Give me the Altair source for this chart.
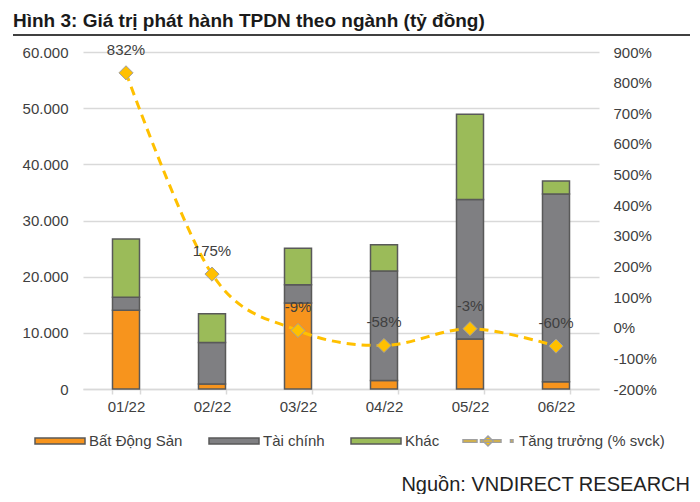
import altair as alt
import pandas as pd

# ---- data ----
months = ["01/22", "02/22", "03/22", "04/22", "05/22", "06/22"]
sectors = ["Bất Động Sản", "Tài chính", "Khác"]
bds = [14000, 900, 15300, 1500, 8900, 1300]
tc = [2350, 7400, 3250, 19500, 24850, 33400]
khac = [10350, 5100, 6500, 4700, 15150, 2350]
growth = [832, 175, -9, -58, -3, -60]
growth_name = "Tăng trưởng (% svck)"
title_text = ["Hình 3: Giá trị phát hành TPDN theo ngành (tỷ đồng)"]
source_text = ["Nguồn: VNDIRECT RESEARCH"]
left_ticks = [0, 10000, 20000, 30000, 40000, 50000, 60000]
right_ticks = [-200, -100, 0, 100, 200, 300, 400, 500, 600, 700, 800, 900]

# ---- styles ----
sector_colors = ["#F7941D", "#7F7F82", "#9BBB59"]
FONT = "Liberation Sans"
TXT = "#404040"
GRID = "#D9D9D9"
LINE_C = "#FFC000"

rows = []
for j, (s, vals) in enumerate(zip(sectors, [bds, tc, khac])):
    for i, m in enumerate(months):
        rows.append({"month": m, "sector": s, "idx": j, "value": vals[i]})
bar_df = pd.DataFrame(rows)
line_df = pd.DataFrame({"month": months, "growth": growth, "series": [growth_name] * len(months)})

x_enc = alt.X(
    "month:N", sort=months,
    scale=alt.Scale(paddingInner=0.686, paddingOuter=0.343),
    axis=alt.Axis(title=None, labelAngle=0, tickBand="extent", domainColor=GRID,
                  domainWidth=1.5, tickColor=GRID, tickWidth=1.5, tickSize=5,
                  labelFontSize=15, labelColor=TXT, labelPadding=5, grid=False),
)

bars = alt.Chart(bar_df).mark_bar(stroke="#595959", strokeWidth=1.5).encode(
    x=x_enc,
    y=alt.Y("value:Q", stack="zero",
            scale=alt.Scale(domain=[0, 60000], nice=False),
            axis=alt.Axis(title=None, orient="left", values=left_ticks,
                          labelExpr="replace(format(datum.value, ','), ',', '.')",
                          grid=True, gridColor=GRID, gridWidth=1.5, domain=False,
                          ticks=False, labelPadding=15, labelFontSize=15, labelColor=TXT)),
    color=alt.Color("sector:N", scale=alt.Scale(domain=sectors, range=sector_colors),
                    legend=alt.Legend(title=None, orient="none", legendX=-49, legendY=363,
                                      direction="horizontal",
                                      symbolType="M-1,-0.12H1V0.12H-1Z", symbolSize=2500,
                                      symbolStrokeColor="#595959", symbolStrokeWidth=1.5,
                                      labelFontSize=15, labelColor=TXT, labelOffset=3,
                                      columnPadding=23, padding=0)),
    order=alt.Order("idx:Q", sort="ascending"),
)

y_right = alt.Y("growth:Q", scale=alt.Scale(domain=[-200, 900], nice=False),
                axis=alt.Axis(title=None, orient="right", values=right_ticks,
                              labelExpr="datum.value + '%'", grid=False, domain=False,
                              ticks=False, labelPadding=14, labelFontSize=15, labelColor=TXT))

line = alt.Chart(line_df).mark_line(color=LINE_C, strokeWidth=3, strokeDash=[9, 6],
                                    interpolate="cardinal").encode(x=x_enc, y=y_right)

legend_line_path = ("M-1,-0.05H-0.44V0.05H-1Z"
                    "M-0.3,-0.05H0.52V0.05H-0.3Z"
                    "M0.9,-0.05H1V0.05H0.9Z"
                    "M0,-0.2L0.2,0L0,0.2L-0.2,0Z")

points = alt.Chart(line_df).mark_point(shape="diamond", filled=True, fill=LINE_C,
                                       stroke="#A0A0A0", strokeWidth=1, size=200).encode(
    x=x_enc, y=y_right,
    opacity=alt.Opacity("series:N", scale=alt.Scale(domain=[growth_name], range=[1]),
                        legend=alt.Legend(title=None, orient="none", legendX=379, legendY=363,
                                          symbolType=legend_line_path,
                                          symbolSize=2500, symbolFillColor=LINE_C,
                                          labelFontSize=15, labelColor=TXT, labelOffset=5,
                                          padding=0)),
)

labels = alt.Chart(line_df).transform_calculate(lbl="datum.growth + '%'").mark_text(
    dy=-23, fontSize=15, color=TXT, font=FONT).encode(x=x_enc, y=y_right, text="lbl:N")

title_df = pd.DataFrame({"t": title_text})
src_df = pd.DataFrame({"t": source_text})

title = alt.Chart(title_df).mark_text(align="left", baseline="alphabetic", fontSize=19,
                                      fontWeight="bold", font=FONT, color="#1A1A1A").encode(
    x=alt.value(-70), y=alt.value(-25), text="t:N")
title_rule = alt.Chart(title_df).mark_rule(color="#000000", strokeWidth=1.5).encode(
    x=alt.value(-70), x2=alt.value(607), y=alt.value(-17))
source = alt.Chart(src_df).mark_text(align="right", baseline="alphabetic", fontSize=20,
                                     font=FONT, color="#222222").encode(
    x=alt.value(607), y=alt.value(439), text="t:N")

chart = alt.layer(
    bars, alt.layer(line, points, labels), title, title_rule, source
).resolve_scale(y="independent", color="independent", opacity="independent").properties(
    width=516, height=337,
    padding={"left": 75, "top": 44, "right": 93, "bottom": 105},
    autosize=alt.AutoSizeParams(type="none"),
).configure_view(stroke=None).configure_axis(labelFont=FONT).configure_legend(labelFont=FONT)

chart.save("out.html", embed_options={"renderer": "svg", "actions": False})
